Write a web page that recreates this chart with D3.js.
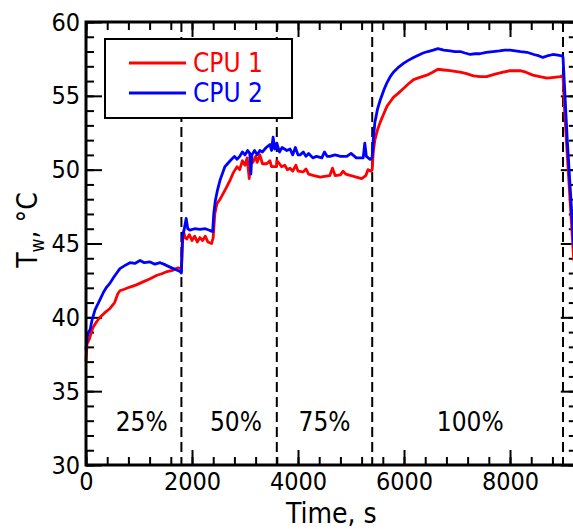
<!DOCTYPE html>
<html>
<head>
<meta charset="utf-8">
<script src="https://cdn.jsdelivr.net/npm/d3@7"></script>
<style>
  body { margin: 0; overflow: hidden; background: #fff; }
  text { font-family: "DejaVu Sans Condensed", "DejaVu Sans", sans-serif; }
</style>
</head>
<body>
<svg id="chart" width="573" height="529"></svg>
<script>
// CPU 1 wall temperature (time s, °C)
const cpu1 = [
  [0, 37.0], [20, 38.2], [60, 38.5], [130, 39.3], [200, 39.7], [264, 40.0], [350, 40.3],
  [453, 40.6], [540, 41.0], [600, 41.6], [640, 41.8], [720, 41.9], [830, 42.05], [950, 42.2],
  [1075, 42.4], [1200, 42.6], [1340, 42.85], [1430, 42.95], [1530, 43.1], [1650, 43.2],
  [1735, 43.35], [1800, 43.3],
  [1820, 45.0], [1840, 45.8], [1870, 45.4], [1900, 45.3], [1950, 45.6], [2000, 45.2],
  [2050, 45.5], [2100, 45.1], [2150, 45.4], [2200, 45.2], [2250, 45.5], [2300, 45.1],
  [2370, 45.0], [2400, 45.4], [2430, 47.0], [2470, 47.7], [2530, 48.0], [2590, 48.4],
  [2650, 48.8], [2720, 49.3], [2780, 49.8], [2850, 50.2], [2900, 50.0], [2950, 50.6],
  [3000, 50.3], [3040, 50.8], [3080, 49.4], [3100, 50.6], [3150, 50.5], [3200, 50.9],
  [3230, 50.5], [3280, 51.0], [3330, 50.4], [3410, 50.4], [3470, 50.6], [3500, 50.2],
  [3570, 50.2], [3595, 50.2],
  [3600, 50.6], [3650, 50.4], [3690, 50.2], [3750, 50.3], [3800, 50.0], [3850, 50.1],
  [3900, 49.9], [3960, 50.3], [4000, 49.9], [4100, 49.85], [4150, 50.05], [4200, 49.7],
  [4300, 49.6], [4420, 49.5], [4500, 49.55], [4600, 49.6], [4650, 50.1], [4700, 49.6],
  [4800, 49.65], [4850, 49.9], [4900, 49.7], [5000, 49.6], [5100, 49.5], [5200, 49.4],
  [5280, 49.6], [5320, 50.0], [5380, 49.9],
  [5400, 50.0], [5420, 51.2], [5450, 52.0], [5500, 52.7], [5550, 53.2], [5620, 53.8],
  [5680, 54.3], [5740, 54.6], [5800, 54.9], [5900, 55.2], [5990, 55.5], [6080, 55.8],
  [6180, 56.1], [6300, 56.25], [6430, 56.4], [6540, 56.6], [6640, 56.8], [6750, 56.75],
  [6870, 56.7], [6960, 56.65], [7060, 56.6], [7180, 56.5], [7310, 56.35], [7430, 56.3],
  [7560, 56.3], [7700, 56.45], [7870, 56.6], [8000, 56.7], [8190, 56.7], [8300, 56.6],
  [8430, 56.4], [8560, 56.3], [8700, 56.2], [8830, 56.25], [8950, 56.3], [8990, 56.35],
  [9000, 56.3], [9030, 54.0], [9080, 51.0], [9140, 47.5], [9200, 44.0], [9260, 42.8]
];

// CPU 2 wall temperature (time s, °C)
const cpu2 = [
  [0, 37.8], [20, 38.6], [38, 38.9], [80, 39.2], [113, 39.8], [170, 40.5], [264, 41.2],
  [330, 41.7], [390, 42.05], [450, 42.3], [520, 42.7], [580, 43.0], [640, 43.3], [730, 43.5],
  [830, 43.7], [920, 43.65], [1020, 43.85], [1100, 43.7], [1210, 43.75], [1300, 43.6],
  [1400, 43.7], [1500, 43.55], [1585, 43.4], [1680, 43.25], [1775, 43.1], [1800, 43.0],
  [1820, 45.5], [1850, 45.9], [1890, 46.7], [1920, 46.0], [1960, 45.9], [2050, 46.0],
  [2150, 45.95], [2250, 46.0], [2330, 45.9], [2390, 45.8], [2410, 47.0], [2440, 47.9],
  [2480, 48.6], [2530, 49.3], [2580, 49.8], [2620, 50.2], [2670, 50.4], [2720, 50.6],
  [2800, 50.9], [2850, 50.7], [2900, 50.9], [2950, 51.2], [3000, 51.0], [3050, 51.3],
  [3090, 51.1], [3110, 49.7], [3130, 51.0], [3180, 51.3], [3230, 51.0], [3280, 51.3],
  [3330, 51.2], [3400, 51.5], [3470, 51.7], [3500, 51.3], [3530, 52.2], [3560, 51.4],
  [3590, 51.5],
  [3600, 51.8], [3650, 51.2], [3700, 51.5], [3790, 51.3], [3850, 51.4], [3900, 51.0],
  [3950, 51.5], [4000, 51.0], [4040, 51.0], [4100, 51.2], [4150, 50.9], [4200, 51.1],
  [4280, 50.8], [4350, 50.9], [4450, 50.8], [4500, 51.2], [4550, 50.9], [4600, 50.9],
  [4700, 51.0], [4800, 50.9], [4920, 50.9], [5000, 51.1], [5100, 50.8], [5170, 50.8],
  [5230, 50.8], [5260, 51.8], [5290, 50.9], [5360, 50.7], [5395, 50.8],
  [5400, 50.9], [5420, 52.0], [5450, 53.2], [5500, 54.1], [5550, 54.7], [5620, 55.4],
  [5680, 55.9], [5740, 56.3], [5800, 56.6], [5900, 56.95], [5990, 57.2], [6080, 57.4],
  [6180, 57.6], [6270, 57.75], [6360, 57.9], [6450, 58.0], [6550, 58.1], [6640, 58.2],
  [6750, 58.1], [6870, 58.05], [6960, 58.0], [7060, 58.0], [7150, 57.9], [7250, 57.8],
  [7340, 57.85], [7430, 57.85], [7550, 57.95], [7680, 58.0], [7800, 58.05], [7900, 58.1],
  [8000, 58.1], [8100, 58.05], [8200, 58.0], [8320, 57.95], [8450, 57.8], [8550, 57.7],
  [8620, 57.6], [8700, 57.7], [8810, 57.8], [8900, 57.75], [8980, 57.7],
  [9000, 57.6], [9030, 55.5], [9080, 52.0], [9140, 48.5], [9200, 45.0], [9260, 43.5]
];

// load steps
const stepTimes = [1800, 3600, 5400, 9000];
const stepLabels = ["25%", "50%", "75%", "100%"];
const stepLabelTimes = [1050, 2830, 4500, 7250];

const xMajor = [0, 2000, 4000, 6000, 8000];
const xMinor = d3.range(0, 9201, 400);
const yMajor = [30, 35, 40, 45, 50, 55, 60];
const yMinor = d3.range(30, 61, 1);

const seriesNames = ["CPU 1", "CPU 2"];
const seriesColors = ["#ff0000", "#0000ff"];

const svg = d3.select("#chart");

const x = d3.scaleLinear().domain([0, 9260]).range([86, 576.8]);
const y = d3.scaleLinear().domain([30, 60]).range([465, 22]);

const styleTicks = g => {
    g.select(".domain").remove();
    g.selectAll(".tick line").attr("stroke", "#000").attr("stroke-width", 2);
    g.selectAll(".tick text").attr("fill", "#000").style("font-size", "25px");
}

// bottom
svg.append("g").attr("transform", `translate(0,${y(30)})`)
    .call(d3.axisBottom(x).tickValues(xMinor).tickSize(-8).tickFormat(""))
    .call(styleTicks);
svg.append("g").attr("transform", `translate(0,${y(30)})`)
    .call(d3.axisBottom(x).tickValues(xMajor).tickSize(-15).tickPadding(7).tickFormat(d3.format("d")))
    .call(styleTicks);
// top
svg.append("g").attr("transform", `translate(0,${y(60)})`)
    .call(d3.axisTop(x).tickValues(xMinor).tickSize(-8).tickFormat(""))
    .call(styleTicks);
svg.append("g").attr("transform", `translate(0,${y(60)})`)
    .call(d3.axisTop(x).tickValues(xMajor).tickSize(-15).tickFormat(""))
    .call(styleTicks);
// left
svg.append("g").attr("transform", `translate(${x(0)},0)`)
    .call(d3.axisLeft(y).tickValues(yMinor).tickSize(-8).tickFormat(""))
    .call(styleTicks);
svg.append("g").attr("transform", `translate(${x(0)},0)`)
    .call(d3.axisLeft(y).tickValues(yMajor).tickSize(-16).tickPadding(6).tickFormat(d3.format("d")))
    .call(styleTicks);
// right
svg.append("g").attr("transform", `translate(${x(9260)},0)`)
    .call(d3.axisRight(y).tickValues(yMinor).tickSize(-8).tickFormat(""))
    .call(styleTicks);
svg.append("g").attr("transform", `translate(${x(9260)},0)`)
    .call(d3.axisRight(y).tickValues(yMajor).tickSize(-16).tickFormat(""))
    .call(styleTicks);

// dashed step lines
svg.append("g")
    .selectAll("line")
    .data(stepTimes)
    .enter()
    .append("line")
    .attr("x1", d => x(d)).attr("x2", d => x(d))
    .attr("y1", y(60)).attr("y2", y(30))
    .attr("stroke", "#000")
    .attr("stroke-width", 2)
    .attr("stroke-dasharray", "10,5");

// curves
const line = d3.line().x(d => x(d[0])).y(d => y(d[1]));
svg.append("g")
    .selectAll("path")
    .data([cpu1, cpu2])
    .enter()
    .append("path")
    .attr("d", line)
    .attr("fill", "none")
    .attr("stroke", (d, i) => seriesColors[i])
    .attr("stroke-width", 2.8)
    .attr("stroke-linejoin", "round");

// frame
svg.append("rect")
    .attr("x", x(0)).attr("y", y(60))
    .attr("width", x(9260) - x(0)).attr("height", y(30) - y(60))
    .attr("fill", "none").attr("stroke", "#000").attr("stroke-width", 3);

// load labels
svg.append("g")
    .selectAll("text")
    .data(stepLabels)
    .enter()
    .append("text")
    .attr("x", (d, i) => x(stepLabelTimes[i]))
    .attr("y", y(32.3))
    .attr("text-anchor", "middle")
    .style("font-size", "26px")
    .text(d => d);

// legend
const legend = svg.append("g");
legend.append("rect")
    .attr("x", 105).attr("y", 39).attr("width", 187).attr("height", 79)
    .attr("fill", "#fff").attr("stroke", "#000").attr("stroke-width", 2);
seriesNames.forEach((name, i) => {
    legend.append("line")
        .attr("x1", 129).attr("x2", 186)
        .attr("y1", 63 + i * 30).attr("y2", 63 + i * 30)
        .attr("stroke", seriesColors[i]).attr("stroke-width", 2.8);
    legend.append("text")
        .attr("x", 193).attr("y", 72 + i * 30)
        .attr("fill", seriesColors[i])
        .style("font-size", "26px")
        .text(name);
});

// axis titles
svg.append("text")
    .attr("x", (x(0) + x(9260)) / 2)
    .attr("y", 523)
    .attr("text-anchor", "middle")
    .style("font-size", "28px")
    .text("Time, s");

const yTitle = svg.append("text")
    .attr("transform", "translate(37,230) rotate(-90)")
    .attr("text-anchor", "middle")
    .style("font-size", "28px");
yTitle.append("tspan").text("T");
yTitle.append("tspan").attr("dy", 7).style("font-size", "19px").text("w");
yTitle.append("tspan").attr("dy", -7).text(", °C");
</script>
</body>
</html>
